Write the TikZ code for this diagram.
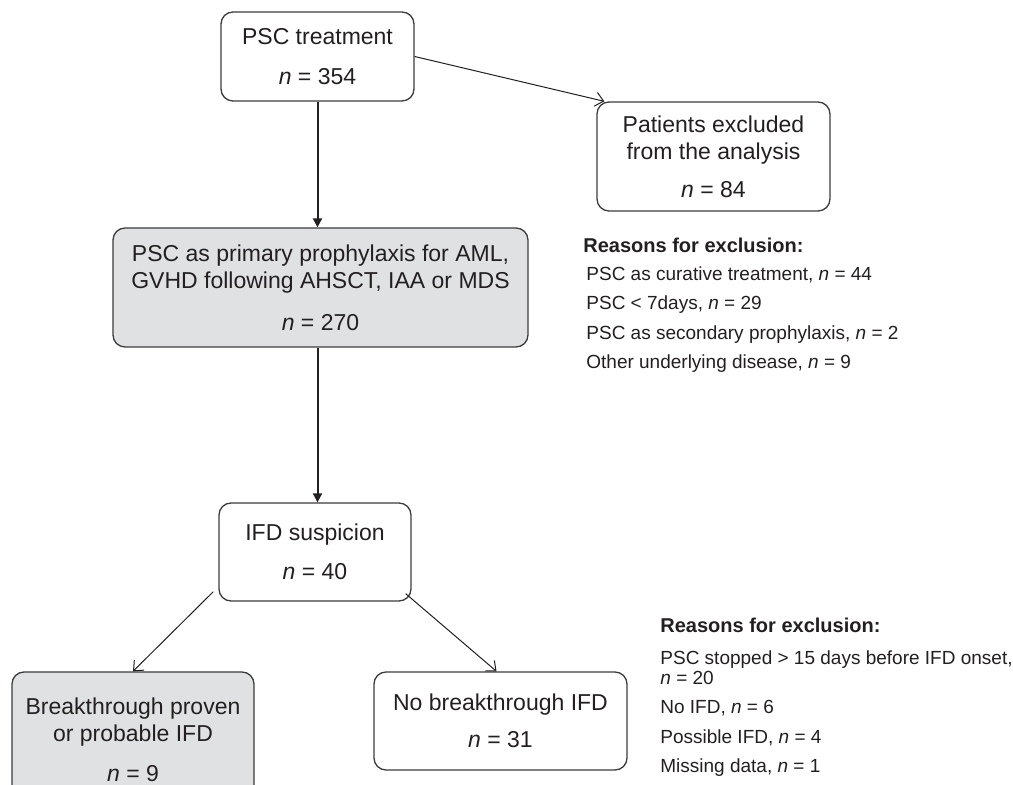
\documentclass[tikz,border=0pt]{standalone}
\usepackage{fontspec}
\setmainfont{Liberation Sans}
\usetikzlibrary{arrows.meta,calc}
\definecolor{boxgray}{RGB}{224,225,227}
\definecolor{boxline}{RGB}{60,60,60}
\definecolor{ink}{RGB}{35,31,32}
\newcommand{\flowfont}{\fontsize{11.5}{13.5}\selectfont}
\newcommand{\notefont}{\fontsize{9.5}{10}\selectfont}
\begin{document}
\begin{tikzpicture}[x=0.5pt,y=-0.5pt,
  flowbox/.style={draw=boxline,line width=0.65pt,rounded corners=6pt,align=center,inner sep=0pt,font=\flowfont,text=ink},
  shaded/.style={flowbox,fill=boxgray},
  mainarrow/.style={draw=ink,line width=1pt,-{Triangle[length=4.5pt,width=4.5pt]}},
  sidearrow/.style={draw=ink,line width=0.5pt,-{Straight Barb[length=4pt,width=7pt]}},
  note/.style={anchor=north west,inner sep=0pt,align=left,font=\notefont,text=ink},
  notehead/.style={anchor=north west,inner sep=0pt,font=\fontsize{10}{10}\selectfont\bfseries,text=ink}]
\clip (0,0) rectangle (1013,785);
\node[flowbox,minimum width=96.5pt,minimum height=44.5pt] (treat) at (317.5,56.5) {PSC treatment\\[6.5pt]\textit{n} = 354};
\node[flowbox,minimum width=116.5pt,minimum height=54.5pt] (excl) at (713.5,156.5) {Patients excluded\\from the analysis\\[5.5pt]\textit{n} = 84};
\node[shaded,minimum width=207.5pt,minimum height=59.5pt] (prim) at (320.5,287.5) {PSC as primary prophylaxis for AML,\\GVHD following AHSCT, IAA or MDS\\[7.5pt]\textit{n} = 270};
\node[flowbox,minimum width=96pt,minimum height=49pt] (ifd) at (315,552) {IFD suspicion\\[6pt]\textit{n} = 40};
\node[shaded,minimum width=121pt,minimum height=68pt] (brk) at (133,740) {Breakthrough proven\\or probable IFD\\[6.5pt]\textit{n} = 9};
\node[flowbox,minimum width=126.5pt,minimum height=49pt] (nobrk) at (500.5,721) {No breakthrough IFD\\[5pt]\textit{n} = 31};
\node[notehead] (why1head) at (583,238) {Reasons for exclusion:};
\node[note] (why1) at (586,266) {PSC as curative treatment, \textit{n} = 44\\[4.8pt]PSC < 7days, \textit{n} = 29\\[4.8pt]PSC as secondary prophylaxis, \textit{n} = 2\\[4.8pt]Other underlying disease, \textit{n} = 9};
\node[notehead] (why2head) at (660,618) {Reasons for exclusion:};
\node[note] (why2) at (660,650) {PSC stopped > 15 days before IFD onset,\\\textit{n} = 20\\[4.8pt]No IFD, \textit{n} = 6\\[4.8pt]Possible IFD, \textit{n} = 4\\[4.8pt]Missing data, \textit{n} = 1};
\draw[mainarrow] (treat.south) -- (treat.south |- prim.north);
\draw[mainarrow] (prim.south -| treat.south) -- (treat.south |- ifd.north);
\draw[sidearrow] (treat.east) -- ($(excl.north west)+(8,0)$);
\draw[sidearrow] ($(ifd.south west)+(-5,-10)$) -- (brk.north);
\draw[sidearrow] ($(ifd.south east)+(-6,-8)$) -- ($(nobrk.north)+(-4,0)$);
\end{tikzpicture}
\end{document}
